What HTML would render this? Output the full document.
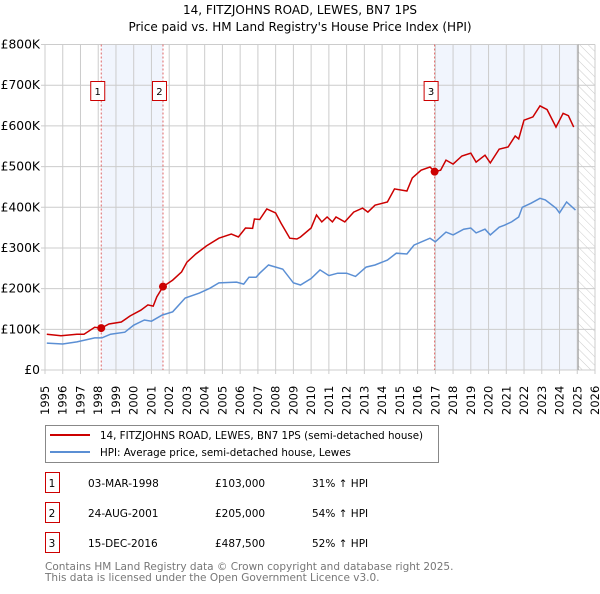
<!DOCTYPE html>
<html><head><meta charset="utf-8"><style>
body{margin:0;background:#fff;font-family:"DejaVu Sans","Liberation Sans",sans-serif;}
svg text{font-family:"DejaVu Sans","Liberation Sans",sans-serif;}
</style></head><body>
<svg id="c" width="600" height="590" xmlns="http://www.w3.org/2000/svg">
<defs><pattern id="hatch" width="6" height="6" patternUnits="userSpaceOnUse" patternTransform="rotate(-45)"><line x1="0" y1="0" x2="0" y2="6" stroke="#ccc" stroke-width="1"/></pattern></defs>
<text x="300" y="14" text-anchor="middle" font-size="12">14, FITZJOHNS ROAD, LEWES, BN7 1PS</text>
<text x="300" y="31" text-anchor="middle" font-size="12">Price paid vs. HM Land Registry's House Price Index (HPI)</text>
<g id="plot"></g>
<g id="legend">
<rect x="45.5" y="425.5" width="393" height="37" fill="#fff" stroke="#888"/>
<line x1="50" y1="435" x2="90" y2="435" stroke="#cc0000" stroke-width="2"/>
<text x="100" y="439" font-size="10.3">14, FITZJOHNS ROAD, LEWES, BN7 1PS (semi-detached house)</text>
<line x1="50" y1="452" x2="90" y2="452" stroke="#5b8fd4" stroke-width="2"/>
<text x="100" y="456" font-size="10.3">HPI: Average price, semi-detached house, Lewes</text>
</g>
<g id="table" font-size="11"></g>
<text x="45" y="570" font-size="10.5" fill="#777">Contains HM Land Registry data © Crown copyright and database right 2025.</text>
<text x="45" y="581" font-size="10.5" fill="#777">This data is licensed under the Open Government Licence v3.0.</text>
</svg>
<script>
const yearTicks=[1995,1996,1997,1998,1999,2000,2001,2002,2003,2004,2005,2006,2007,2008,2009,2010,2011,2012,2013,2014,2015,2016,2017,2018,2019,2020,2021,2022,2023,2024,2025,2026];
const priceTicks=[0,100000,200000,300000,400000,500000,600000,700000,800000];
const priceTickLabels=["£0","£100K","£200K","£300K","£400K","£500K","£600K","£700K","£800K"];
const hpiYears=[1995.1,1996.0,1996.8,1997.8,1998.2,1998.7,1999.5,2000.0,2000.6,2001.0,2001.6,2002.2,2002.9,2003.7,2004.3,2004.8,2005.8,2006.2,2006.5,2006.9,2007.1,2007.6,2008.4,2009.0,2009.4,2010.0,2010.5,2011.0,2011.5,2012.0,2012.5,2013.1,2013.6,2014.3,2014.8,2015.4,2015.8,2016.7,2017.0,2017.6,2018.0,2018.6,2019.0,2019.3,2019.8,2020.1,2020.6,2020.9,2021.3,2021.7,2021.9,2022.4,2022.9,2023.2,2023.8,2024.0,2024.4,2024.9];
const hpiValues=[66000,64000,69000,79000,79000,88000,93000,110000,123000,120000,135000,143000,177000,189000,201000,214000,216000,211000,228000,228000,238000,258000,248000,214000,209000,225000,246000,232000,238000,238000,230000,253000,258000,270000,287000,285000,307000,324000,315000,339000,332000,346000,349000,337000,346000,332000,351000,356000,364000,376000,400000,410000,422000,418000,398000,386000,413000,393000];
const propYears=[1995.1,1995.9,1996.8,1997.2,1997.8,1998.17,1998.6,1999.3,1999.8,2000.4,2000.8,2001.1,2001.3,2001.65,2002.2,2002.7,2003.0,2003.5,2003.8,2004.1,2004.8,2005.5,2005.9,2006.3,2006.7,2006.8,2007.1,2007.5,2008.0,2008.3,2008.8,2009.2,2009.4,2010.0,2010.3,2010.6,2010.9,2011.2,2011.4,2011.9,2012.4,2012.9,2013.2,2013.6,2014.3,2014.7,2015.4,2015.7,2016.2,2016.7,2016.96,2017.3,2017.6,2018.0,2018.5,2019.0,2019.3,2019.8,2020.1,2020.6,2021.1,2021.5,2021.7,2022.0,2022.5,2022.9,2023.3,2023.8,2024.2,2024.5,2024.8];
const propValues=[88000,84000,88000,88000,105000,103000,113000,118000,133000,147000,160000,157000,180000,205000,221000,241000,265000,285000,295000,305000,324000,334000,327000,349000,348000,371000,370000,396000,386000,361000,324000,322000,327000,349000,381000,364000,376000,364000,376000,364000,388000,398000,388000,405000,413000,445000,440000,472000,491000,499000,487500,491000,516000,506000,526000,533000,511000,528000,509000,543000,548000,575000,568000,614000,622000,649000,640000,597000,631000,625000,597000];
const saleLabels=["1","2","3"];
const saleYears=[1998.17,2001.65,2016.96];
const salePrices=[103000,205000,487500];
const saleDates=["03-MAR-1998","24-AUG-2001","15-DEC-2016"];
const salePriceText=["£103,000","£205,000","£487,500"];
const salePct=["31% ↑ HPI","54% ↑ HPI","52% ↑ HPI"];
const dataEnd=2025.05;

const X0=45,X1=595,Y0=370,Y1=44.5;
const xs=y=>X0+(y-1995)/(2026-1995)*(X1-X0);
const ys=v=>Y0-v/800000*(Y0-Y1);
const NS="http://www.w3.org/2000/svg";
const plot=document.getElementById('plot');
function mk(tag,attrs,parent){const e=document.createElementNS(NS,tag);for(const k in attrs)e.setAttribute(k,attrs[k]);(parent||plot).appendChild(e);return e;}

let s1=mk('rect',{x:xs(saleYears[0]),y:Y1,width:xs(saleYears[1])-xs(saleYears[0]),height:Y0-Y1,fill:'#eef3fc',opacity:0.8});


let s2=mk('rect',{x:xs(saleYears[2]),y:Y1,width:xs(dataEnd)-xs(saleYears[2]),height:Y0-Y1,fill:'#eef3fc',opacity:0.8});


let hz=mk('rect',{x:xs(dataEnd),y:Y1,width:X1-xs(dataEnd),height:Y0-Y1,fill:'url(#hatch)'});



yearTicks.forEach(y=>{
 let l=mk('line',{x1:xs(y),x2:xs(y),y1:Y1,y2:Y0+4,stroke:'#cccccc','stroke-width':1});
 
 
 let t=mk('text',{transform:`translate(${xs(y)+4},${Y0+45}) rotate(-90)`,'font-size':11.5});
 t.textContent=y;
 
 
});
priceTicks.forEach((v,i)=>{
 let l=mk('line',{x1:X0-4,x2:X1,y1:ys(v),y2:ys(v),stroke:'#cccccc','stroke-width':1});
 
 
 let t=mk('text',{x:X0-5,y:ys(v)+4,'text-anchor':'end','font-size':12.3});
 t.textContent=priceTickLabels[i];
 
 
});
let dl=mk('line',{x1:xs(dataEnd),x2:xs(dataEnd),y1:Y1,y2:Y0,stroke:'#999','stroke-width':1});



saleYears.forEach((y,i)=>{
 let l=mk('line',{x1:xs(y),x2:xs(y),y1:Y1,y2:Y0,stroke:'#e06666','stroke-width':1,'stroke-dasharray':'2,2'});
 
 
});

const path=(xsA,vs)=>xsA.map((y,i)=>(i?'L':'M')+xs(y).toFixed(1)+','+ys(vs[i]).toFixed(1)).join('');
let hp=mk('path',{d:path(hpiYears,hpiValues),fill:'none',stroke:'#5b8fd4','stroke-width':1.5});


let pp=mk('path',{d:path(propYears,propValues),fill:'none',stroke:'#cc0000','stroke-width':1.5});



saleYears.forEach((y,i)=>{
 let c=mk('circle',{cx:xs(y),cy:ys(salePrices[i]),r:4,fill:'#cc0000'});
 
 
 let b=mk('rect',{x:xs(y)-10.5,y:81.5,width:14,height:19,fill:'#fff',stroke:'#cc0000'});
 
 
 let t=mk('text',{x:xs(y)-3.5,y:95,'text-anchor':'middle','font-size':10});
 t.textContent=saleLabels[i];
 
 
});

const tb=document.getElementById('table');
saleLabels.forEach((lab,i)=>{
 const cy=483+i*30;
 let b=mk('rect',{x:45.5,y:cy-10.5,width:14,height:20,fill:'#fff',stroke:'#cc0000'},tb);
 
 
 const cells=[[52,lab,'middle'],[88,saleDates[i],'start'],[215,salePriceText[i],'start'],[312,salePct[i],'start']];
 cells.forEach(c=>{
  let t=mk('text',{x:c[0],y:cy+4,'text-anchor':c[2],'font-size':10.5},tb);
  t.textContent=c[1];
  
  
 });
});
</script>
</body></html>
